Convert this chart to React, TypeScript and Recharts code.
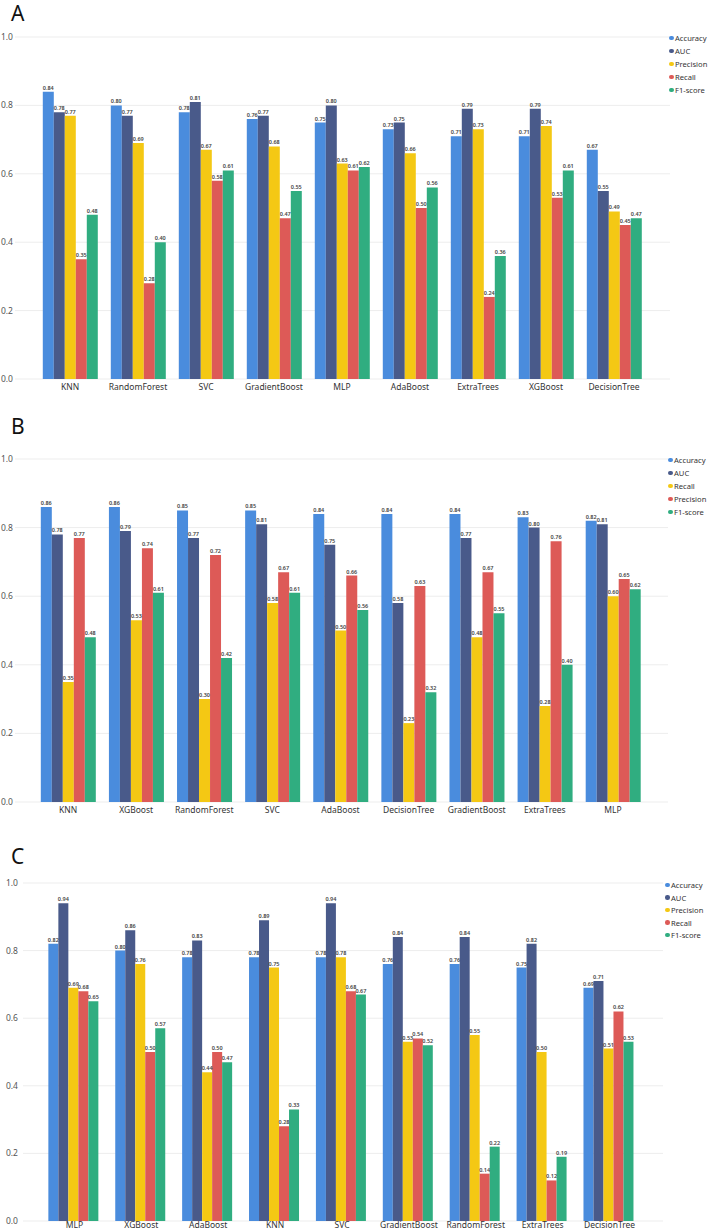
import React from 'react';
import { BarChart, Bar, XAxis, YAxis, CartesianGrid, Legend, LabelList } from 'recharts';

// ---------- Panel A ----------
const catsA = ['KNN', 'RandomForest', 'SVC', 'GradientBoost', 'MLP', 'AdaBoost', 'ExtraTrees', 'XGBoost', 'DecisionTree'];
const accA = [0.84, 0.80, 0.78, 0.76, 0.75, 0.73, 0.71, 0.71, 0.67];
const aucA = [0.78, 0.77, 0.81, 0.77, 0.80, 0.75, 0.79, 0.79, 0.55];
const precA = [0.77, 0.69, 0.67, 0.68, 0.63, 0.66, 0.73, 0.74, 0.49];
const recA = [0.35, 0.28, 0.58, 0.47, 0.61, 0.50, 0.24, 0.53, 0.45];
const f1A = [0.48, 0.40, 0.61, 0.55, 0.62, 0.56, 0.36, 0.61, 0.47];

// ---------- Panel B ----------
const catsB = ['KNN', 'XGBoost', 'RandomForest', 'SVC', 'AdaBoost', 'DecisionTree', 'GradientBoost', 'ExtraTrees', 'MLP'];
const accB = [0.86, 0.86, 0.85, 0.85, 0.84, 0.84, 0.84, 0.83, 0.82];
const aucB = [0.78, 0.79, 0.77, 0.81, 0.75, 0.58, 0.77, 0.80, 0.81];
const recB = [0.35, 0.53, 0.30, 0.58, 0.50, 0.23, 0.48, 0.28, 0.60];
const precB = [0.77, 0.74, 0.72, 0.67, 0.66, 0.63, 0.67, 0.76, 0.65];
const f1B = [0.48, 0.61, 0.42, 0.61, 0.56, 0.32, 0.55, 0.40, 0.62];

// ---------- Panel C ----------
const catsC = ['MLP', 'XGBoost', 'AdaBoost', 'KNN', 'SVC', 'GradientBoost', 'RandomForest', 'ExtraTrees', 'DecisionTree'];
const accC = [0.82, 0.80, 0.78, 0.78, 0.78, 0.76, 0.76, 0.75, 0.69];
const aucC = [0.94, 0.86, 0.83, 0.89, 0.94, 0.84, 0.84, 0.82, 0.71];
const precC = [0.69, 0.76, 0.44, 0.75, 0.78, 0.53, 0.55, 0.50, 0.51];
const recC = [0.68, 0.50, 0.50, 0.28, 0.68, 0.54, 0.14, 0.12, 0.62];
const f1C = [0.65, 0.57, 0.47, 0.33, 0.67, 0.52, 0.22, 0.19, 0.53];

const yTicks = [0, 0.2, 0.4, 0.6, 0.8, 1.0];

const COLORS = {
  blue: '#4A8CDD',
  navy: '#495A8A',
  yellow: '#F4C814',
  red: '#DD5A57',
  green: '#30AD80',
};

const FONT = "'Segoe UI', 'Noto Sans', 'Open Sans', sans-serif";

type SeriesDef = { key: string; name: string; color: string; values: number[] };

function buildRows(cats: string[], series: SeriesDef[]) {
  return cats.map((c, i) => {
    const row: Record<string, any> = { cat: c };
    series.forEach((s) => {
      row[s.key] = s.values[i];
    });
    return row;
  });
}

const LegendContent = (props: { series: SeriesDef[]; rowH: number }) => {
  const { series, rowH } = props;
  return (
    <div style={{ fontFamily: FONT }}>
      {series.map((s) => (
        <div key={s.key} style={{ display: 'flex', alignItems: 'center', height: rowH, whiteSpace: 'nowrap' }}>
          <span style={{ display: 'inline-block', width: 4.5, height: 4.5, borderRadius: '50%', background: s.color, marginRight: 1.5, flex: 'none' }} />
          <span style={{ fontSize: 7.6, color: '#333' }}>{s.name}</span>
        </div>
      ))}
    </div>
  );
};

type PanelProps = {
  letter: string;
  top: number;
  height: number;
  cats: string[];
  series: SeriesDef[];
  plotTop: number;
  plotBottom: number;
  plotLeft: number;
  plotRight: number;
  padL: number;
  padR: number;
  gap: string;
  yTickMargin: number;
  xTickMargin: number;
  legendLeft: number;
  legendTop: number;
  rowH: number;
  letterTop: number;
  letterLeft: number;
};

function Panel(p: PanelProps) {
  const data = buildRows(p.cats, p.series);
  return (
    <div style={{ position: 'absolute', left: 0, top: p.top, width: 708, height: p.height }}>
      <div
        style={{
          position: 'absolute',
          left: p.letterLeft,
          top: p.letterTop,
          fontFamily: FONT,
          fontSize: 21,
          color: '#111',
          lineHeight: 1,
          zIndex: 2,
        }}
      >
        {p.letter}
      </div>
      <BarChart
        width={708}
        height={p.height}
        data={data}
        margin={{ top: p.plotTop, right: 708 - p.plotRight, left: 0, bottom: 0 }}
        barGap={0}
        barCategoryGap={p.gap}
      >
        <CartesianGrid vertical={false} stroke="#EDEDED" strokeWidth={1} />
        <XAxis
          dataKey="cat"
          height={p.height - p.plotBottom}
          padding={{ left: p.padL, right: p.padR }}
          axisLine={false}
          tickLine={false}
          tickSize={0}
          tickMargin={p.xTickMargin}
          interval={0}
          tick={{ fontSize: 8.5, fill: '#333', fontFamily: FONT }}
        />
        <YAxis
          width={p.plotLeft}
          domain={[0, 1]}
          ticks={yTicks}
          tickFormatter={(v: number) => v.toFixed(1)}
          axisLine={false}
          tickLine={false}
          tickSize={0}
          tickMargin={p.yTickMargin}
          tick={{ fontSize: 8.5, fill: '#555', fontFamily: FONT }}
        />
        <Legend
          layout="vertical"
          align="center"
          verticalAlign="middle"
          wrapperStyle={{ left: p.legendLeft, top: p.legendTop, width: 708 - p.legendLeft, right: 'auto', bottom: 'auto' }}
          content={() => <LegendContent series={p.series} rowH={p.rowH} />}
        />
        {p.series.map((s) => (
          <Bar key={s.key} dataKey={s.key} name={s.name} fill={s.color} isAnimationActive={false}>
            <LabelList
              dataKey={s.key}
              position="top"
              offset={2}
              formatter={(v: any) => Number(v).toFixed(2)}
              style={{ fontSize: 5.5, fill: '#444', fontWeight: 600, fontFamily: FONT }}
            />
          </Bar>
        ))}
      </BarChart>
    </div>
  );
}

export default function App() {
  const seriesA: SeriesDef[] = [
    { key: 'acc', name: 'Accuracy', color: COLORS.blue, values: accA },
    { key: 'auc', name: 'AUC', color: COLORS.navy, values: aucA },
    { key: 'prec', name: 'Precision', color: COLORS.yellow, values: precA },
    { key: 'rec', name: 'Recall', color: COLORS.red, values: recA },
    { key: 'f1', name: 'F1-score', color: COLORS.green, values: f1A },
  ];
  const seriesB: SeriesDef[] = [
    { key: 'acc', name: 'Accuracy', color: COLORS.blue, values: accB },
    { key: 'auc', name: 'AUC', color: COLORS.navy, values: aucB },
    { key: 'rec', name: 'Recall', color: COLORS.yellow, values: recB },
    { key: 'prec', name: 'Precision', color: COLORS.red, values: precB },
    { key: 'f1', name: 'F1-score', color: COLORS.green, values: f1B },
  ];
  const seriesC: SeriesDef[] = [
    { key: 'acc', name: 'Accuracy', color: COLORS.blue, values: accC },
    { key: 'auc', name: 'AUC', color: COLORS.navy, values: aucC },
    { key: 'prec', name: 'Precision', color: COLORS.yellow, values: precC },
    { key: 'rec', name: 'Recall', color: COLORS.red, values: recC },
    { key: 'f1', name: 'F1-score', color: COLORS.green, values: f1C },
  ];

  return (
    <div style={{ position: 'absolute', left: 0, top: 0, width: 708, height: 1231, background: '#fff', overflow: 'hidden' }}>
      <Panel
        letter="A"
        top={0}
        height={400}
        cats={catsA}
        series={seriesA}
        plotTop={37}
        plotBottom={379}
        plotLeft={15}
        plotRight={670}
        padL={21}
        padR={22}
        gap="10%"
        yTickMargin={2}
        xTickMargin={5}
        legendLeft={669}
        legendTop={31.5}
        rowH={13}
        letterTop={3}
        letterLeft={11}
      />
      <Panel
        letter="B"
        top={400}
        height={425}
        cats={catsB}
        series={seriesB}
        plotTop={59}
        plotBottom={402}
        plotLeft={15}
        plotRight={668}
        padL={19}
        padR={21}
        gap="10%"
        yTickMargin={2}
        xTickMargin={5}
        legendLeft={668}
        legendTop={53.5}
        rowH={13}
        letterTop={16}
        letterLeft={11}
      />
      <Panel
        letter="C"
        top={820}
        height={411}
        cats={catsC}
        series={seriesC}
        plotTop={63}
        plotBottom={401}
        plotLeft={23}
        plotRight={663}
        padL={18}
        padR={20}
        gap="11%"
        yTickMargin={5}
        xTickMargin={1}
        legendLeft={665}
        legendTop={58.75}
        rowH={12.5}
        letterTop={26}
        letterLeft={11}
      />
    </div>
  );
}
